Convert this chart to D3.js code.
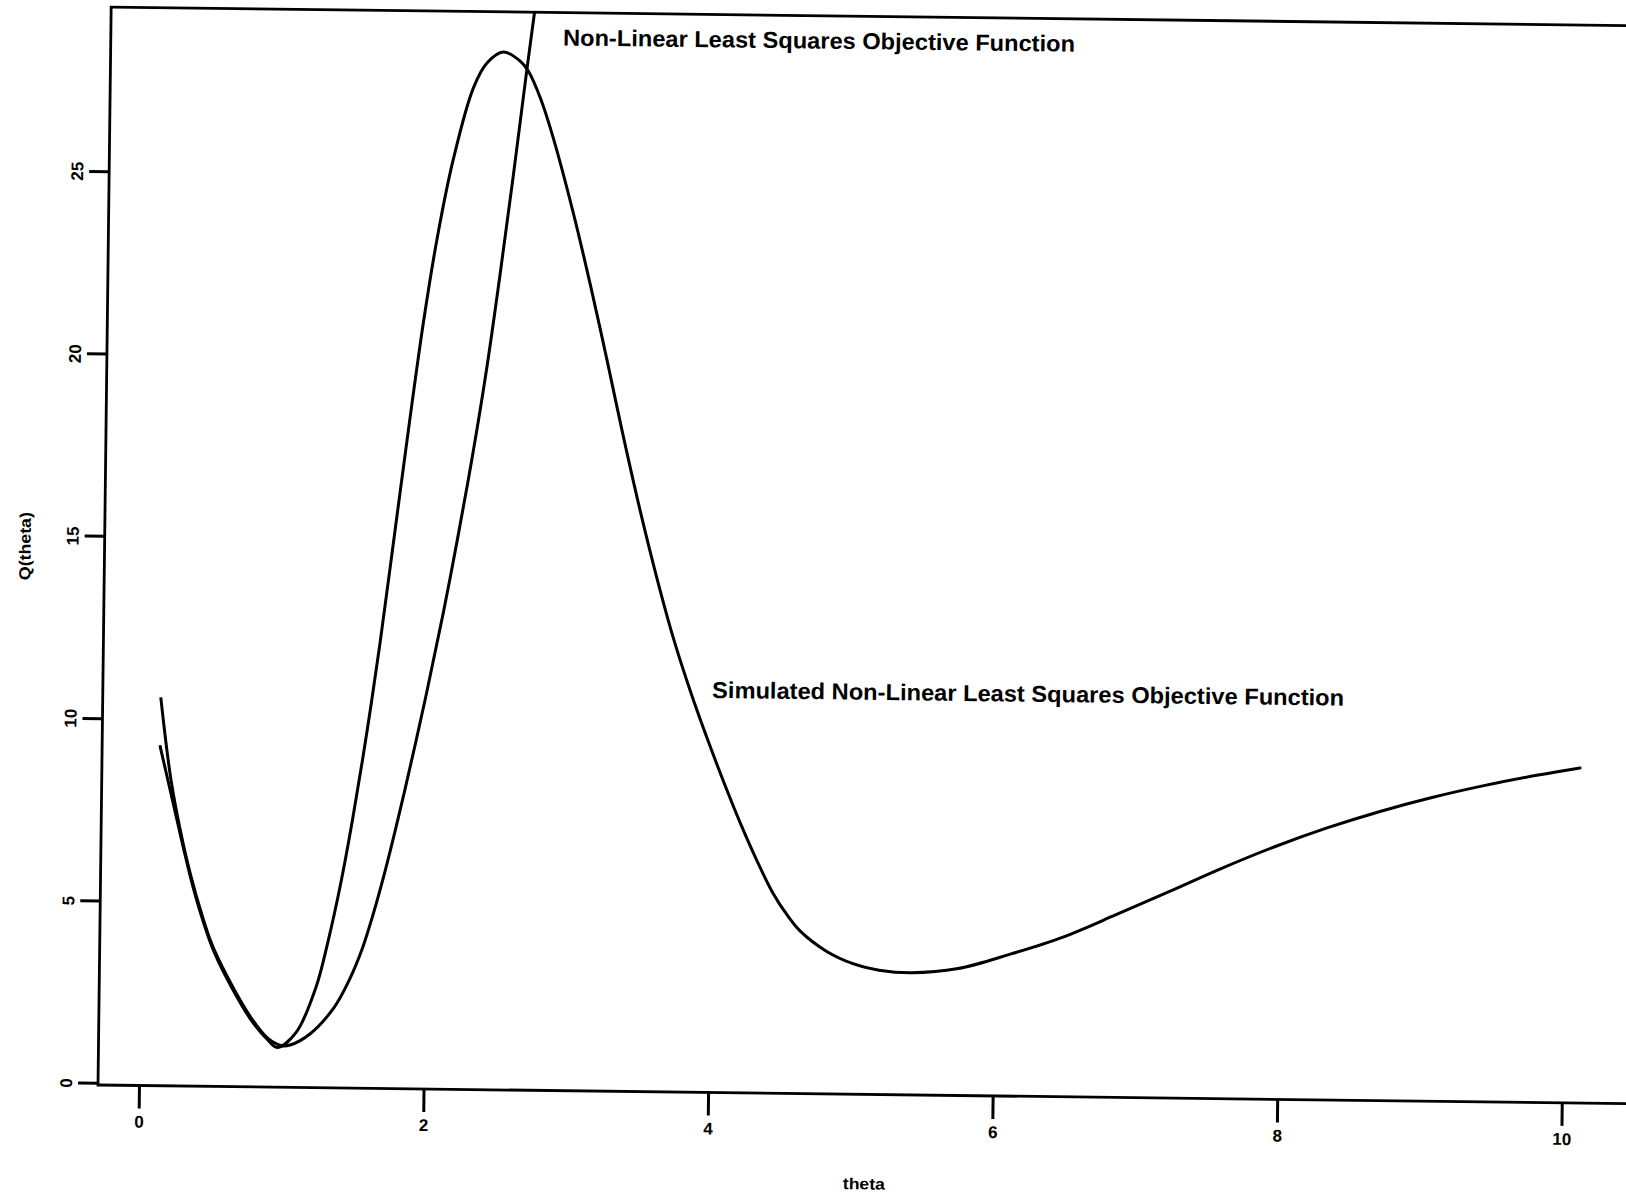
<!DOCTYPE html>
<html>
<head>
<meta charset="utf-8">
<script src="https://cdn.jsdelivr.net/npm/d3@7"></script>
<style>
  body { margin: 0; background: #fff; }
  text { font-family: "Liberation Sans", Arial, Helvetica, sans-serif; font-weight: bold; fill: #000; }
</style>
</head>
<body>
<div id="chart-container"></div>
<script>
// tick labels
const thetaTicks = [0, 2, 4, 6, 8, 10];
const qTicks = [0, 5, 10, 15, 20, 25];

// simulated objective function
const simTheta = [0.12, 0.20, 0.29, 0.35, 0.415, 0.50, 0.609, 0.774, 0.90, 0.967, 1.10, 1.236, 1.316, 1.403, 1.48, 1.573, 1.656, 1.752, 1.848, 1.933, 2.024, 2.130, 2.264, 2.359, 2.472, 2.593, 2.65, 2.736, 2.831, 2.978, 3.103, 3.229, 3.348, 3.474, 3.598, 3.716, 3.840, 3.963, 4.079, 4.202, 4.325, 4.440, 4.55, 4.632, 4.816, 5.007, 5.191, 5.416, 5.746, 6.117, 6.481, 6.852, 7.222, 7.586, 7.956, 8.327, 8.698, 9.062, 9.434, 9.806, 10.10];
const simQ = [9.24, 7.95, 6.50, 5.58, 4.72, 3.78, 2.90, 1.82, 1.24, 1.03, 1.45, 2.70, 3.95, 5.60, 7.35, 9.75, 12.15, 15.25, 18.35, 20.95, 23.30, 25.45, 27.40, 28.10, 28.40, 28.15, 27.88, 27.15, 26.05, 24.00, 22.05, 19.95, 17.90, 15.85, 14.00, 12.40, 10.95, 9.65, 8.50, 7.35, 6.30, 5.42, 4.78, 4.40, 3.86, 3.52, 3.35, 3.29, 3.42, 3.84, 4.32, 4.95, 5.60, 6.25, 6.86, 7.40, 7.87, 8.27, 8.62, 8.92, 9.13];

// non-linear least squares objective function
const nlsTheta = [0.12, 0.20, 0.29, 0.35, 0.415, 0.50, 0.609, 0.774, 0.90, 1.00, 1.058, 1.197, 1.365, 1.474, 1.556, 1.63, 1.711, 1.844, 1.985, 2.098, 2.190, 2.293, 2.385, 2.468, 2.552, 2.635, 2.70, 2.75];
const nlsQ = [10.59, 8.30, 6.58, 5.66, 4.80, 3.84, 2.97, 1.88, 1.28, 1.08, 1.10, 1.41, 2.15, 2.95, 3.75, 4.70, 5.90, 8.15, 10.75, 13.0, 15.0, 17.4, 19.8, 22.3, 25.0, 27.8, 29.9, 31.6];

const simData = simTheta.map((t, i) => ({ theta: t, q: simQ[i] }));
const nlsData = nlsTheta.map((t, i) => ({ theta: t, q: nlsQ[i] }));

//Set dimensions of the plot frame (the scan is tilted a little)
const origin = { x: 98, y: 1085 };
const tilt = 0.7;
const width = 1535;
const height = 1078;

const x = d3.scaleLinear().domain([-0.288, 10.5]).range([0, width]);
const y = d3.scaleLinear().domain([-0.06, 29.5]).range([0, -height]);

const svg = d3.select("#chart-container")
  .append("svg")
    .attr("width", 1626)
    .attr("height", 1194)
  .append("g")
    .attr("transform", `translate(${origin.x}, ${origin.y}) rotate(${tilt})`);

svg.append("clipPath")
    .attr("id", "plot-clip")
  .append("rect")
    .attr("x", 0)
    .attr("y", -height)
    .attr("width", width)
    .attr("height", height);

//Add x-axis
const xAxis = svg.append("g")
  .call(d3.axisBottom(x)
    .tickValues(thetaTicks)
    .tickSize(23)
    .tickPadding(7)
    .tickFormat(d3.format("d")));
xAxis.select(".domain").remove();
xAxis.selectAll("line").attr("stroke", "#000").attr("stroke-width", 3);
xAxis.selectAll("text")
  .style("font-size", "17px")
  .style("font-family", "'Liberation Sans', Arial, sans-serif")
  .style("font-weight", "bold");

//Add y-axis, labels turned like in the original
const yAxis = svg.append("g")
  .call(d3.axisLeft(y)
    .tickValues(qTicks)
    .tickSize(20)
    .tickFormat(d3.format("d")));
yAxis.select(".domain").remove();
yAxis.selectAll("line").attr("stroke", "#000").attr("stroke-width", 3);
yAxis.selectAll("text")
  .attr("x", 0)
  .attr("dy", 0)
  .attr("text-anchor", "middle")
  .attr("transform", "translate(-26, 0) rotate(-90)")
  .style("font-size", "17px")
  .style("font-family", "'Liberation Sans', Arial, sans-serif")
  .style("font-weight", "bold");

//Frame
svg.append("rect")
  .attr("x", 0)
  .attr("y", -height)
  .attr("width", width)
  .attr("height", height)
  .attr("fill", "none")
  .attr("stroke", "#000")
  .attr("stroke-width", 2.8);

// Create a line generator
const line = d3.line()
  .x(d => x(d.theta))
  .y(d => y(d.q))
  .curve(d3.curveCatmullRom.alpha(0.5));

svg.append("path")
  .datum(nlsData)
  .attr("clip-path", "url(#plot-clip)")
  .attr("fill", "none")
  .attr("stroke", "#000")
  .attr("stroke-width", 3)
  .attr("d", line);

svg.append("path")
  .datum(simData)
  .attr("fill", "none")
  .attr("stroke", "#000")
  .attr("stroke-width", 3)
  .attr("stroke-linecap", "round")
  .attr("d", line);

//Curve labels
svg.append("text")
  .attr("x", x(2.890))
  .attr("y", y(28.60))
  .attr("textLength", 512)
  .attr("lengthAdjust", "spacingAndGlyphs")
  .style("font-size", "23px")
  .text("Non-Linear Least Squares Objective Function");

svg.append("text")
  .attr("x", x(3.994))
  .attr("y", y(10.76))
  .attr("textLength", 632)
  .attr("lengthAdjust", "spacingAndGlyphs")
  .style("font-size", "23px")
  .text("Simulated Non-Linear Least Squares Objective Function");

//Axis titles
svg.append("text")
  .attr("x", 767)
  .attr("y", 95)
  .attr("text-anchor", "middle")
  .attr("textLength", 42)
  .attr("lengthAdjust", "spacingAndGlyphs")
  .style("font-size", "16px")
  .text("theta");

svg.append("text")
  .attr("transform", "translate(-74, -538) rotate(-90)")
  .attr("text-anchor", "middle")
  .attr("textLength", 68)
  .attr("lengthAdjust", "spacingAndGlyphs")
  .style("font-size", "16px")
  .text("Q(theta)");
</script>
</body>
</html>
